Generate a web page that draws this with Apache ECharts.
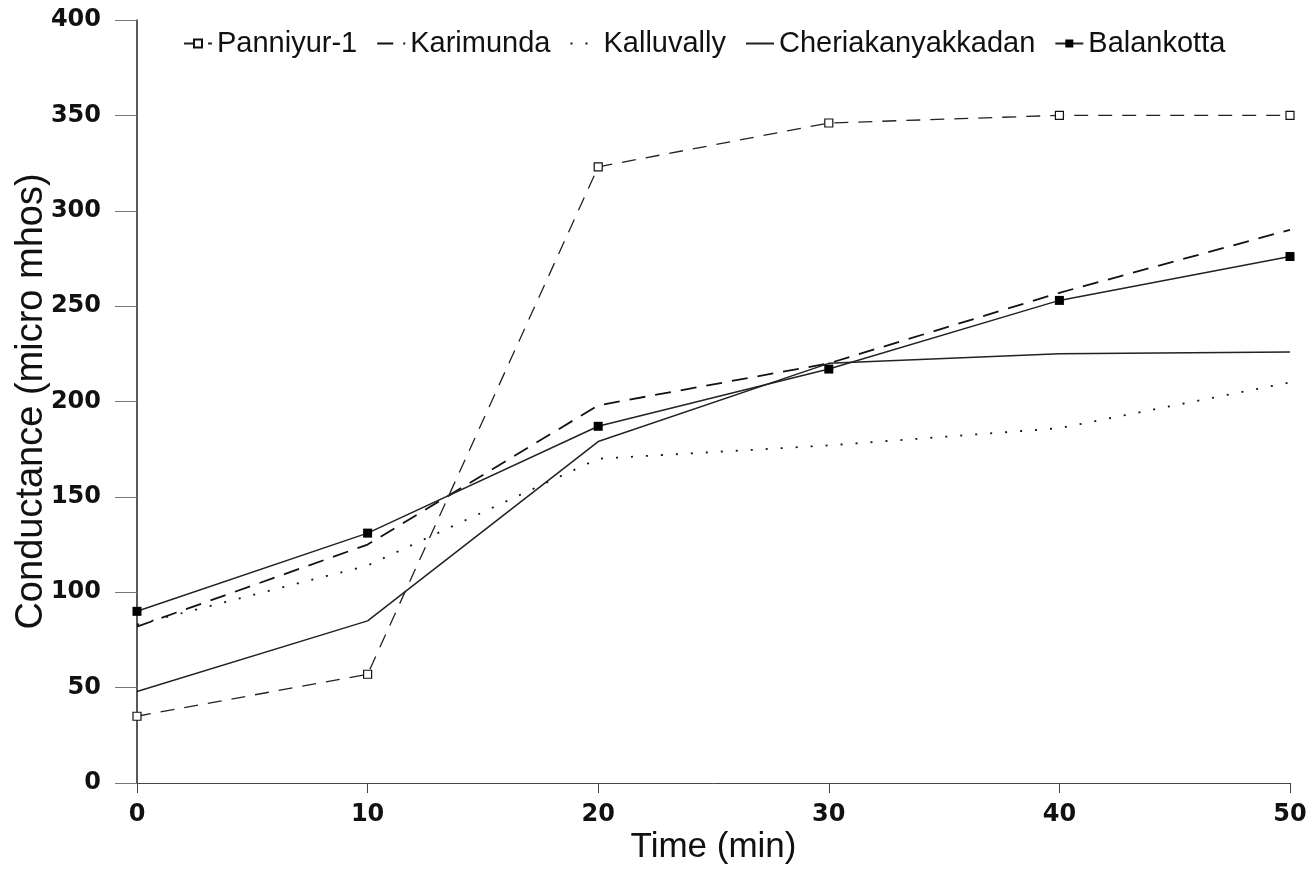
<!DOCTYPE html>
<html>
<head>
<meta charset="utf-8">
<script src="https://cdn.jsdelivr.net/npm/echarts@6/dist/echarts.min.js"></script>
<style>
  html, body { margin: 0; padding: 0; background: #fff; }
  #main { width: 1313px; height: 892px; }
</style>
</head>
<body>
<div id="main"></div>
<script>
var times = [0, 10, 20, 30, 40, 50];
var panniyur = [35, 57, 323, 346, 350, 350];
var karimunda = [82, 125, 198, 220, 257, 290];
var kalluvally = [83, 114, 170, 177, 186, 210];
var cheria = [48, 85, 179, 220, 225, 226];
var balankotta = [90, 131, 187, 217, 253, 276];

function pairs(vals) {
    var out = [];
    for (var i = 0; i < times.length; i++) {
        out.push([times[i], vals[i]]);
    }
    return out;
}

var myChart = echarts.init(document.getElementById("main"));
var option = {
    backgroundColor: "#fff",
    animation: false,
    textStyle: { fontFamily: "Liberation Sans" },
    legend: {
        top: 24,
        left: 178,
        itemWidth: 28,
        itemHeight: 10,
        itemGap: 19,
        textStyle: { fontSize: 29, color: "#111", fontFamily: "Liberation Sans" },
        data: [
            { name: "Panniyur-1" },
            { name: "Karimunda", itemStyle: { opacity: 0 } },
            { name: "Kalluvally", itemStyle: { opacity: 0 } },
            { name: "Cheriakanyakkadan", itemStyle: { opacity: 0 } },
            { name: "Balankotta" }
        ]
    },
    grid: { left: 137, right: 23, top: 20, bottom: 109, containLabel: false, outerBoundsMode: "none" },
    xAxis: {
        type: "value",
        min: 0, max: 50, interval: 10,
        name: "Time (min)",
        nameLocation: "middle",
        nameGap: 47,
        nameMoveOverlap: false,
        nameTextStyle: { fontSize: 35, color: "#111" },
        axisLine: { lineStyle: { color: "#444", width: 1 } },
        axisTick: { show: true, length: 10, lineStyle: { color: "#444" } },
        axisLabel: { fontSize: 24, fontWeight: "bold", color: "#111", margin: 20, fontFamily: "DejaVu Sans" },
        splitLine: { show: false }
    },
    yAxis: {
        type: "value",
        min: 0, max: 400, interval: 50,
        name: "Conductance (micro mhos)",
        nameLocation: "middle",
        nameGap: 86,
        nameMoveOverlap: false,
        nameTextStyle: { fontSize: 38, color: "#111" },
        axisLine: { show: true, lineStyle: { color: "#222", width: 1.5 } },
        axisTick: { show: true, length: 22, lineStyle: { color: "#777" } },
        axisLabel: { fontSize: 24, fontWeight: "bold", color: "#111", margin: 36, fontFamily: "DejaVu Sans" },
        splitLine: { show: false }
    },
    series: [
        {
            name: "Panniyur-1", type: "line", data: pairs(panniyur),
            symbol: "rect", symbolSize: 8,
            itemStyle: { color: "#fff", borderColor: "#111", borderWidth: 1.2 },
            lineStyle: { color: "#222", width: 1.3, type: [14, 10] }
        },
        {
            name: "Karimunda", type: "line", data: pairs(karimunda),
            symbol: "none",
            itemStyle: { color: "#111" },
            lineStyle: { color: "#111", width: 1.8, type: [16, 10] }
        },
        {
            name: "Kalluvally", type: "line", data: pairs(kalluvally),
            symbol: "none",
            itemStyle: { color: "#111" },
            lineStyle: { color: "#111", width: 1.8, type: [2, 13] }
        },
        {
            name: "Cheriakanyakkadan", type: "line", data: pairs(cheria),
            symbol: "none",
            itemStyle: { color: "#111" },
            lineStyle: { color: "#222", width: 1.5 }
        },
        {
            name: "Balankotta", type: "line", data: pairs(balankotta),
            symbol: "rect", symbolSize: 9,
            itemStyle: { color: "#000" },
            lineStyle: { color: "#222", width: 1.5 }
        }
    ]
};
myChart.setOption(option);
</script>
</body>
</html>
